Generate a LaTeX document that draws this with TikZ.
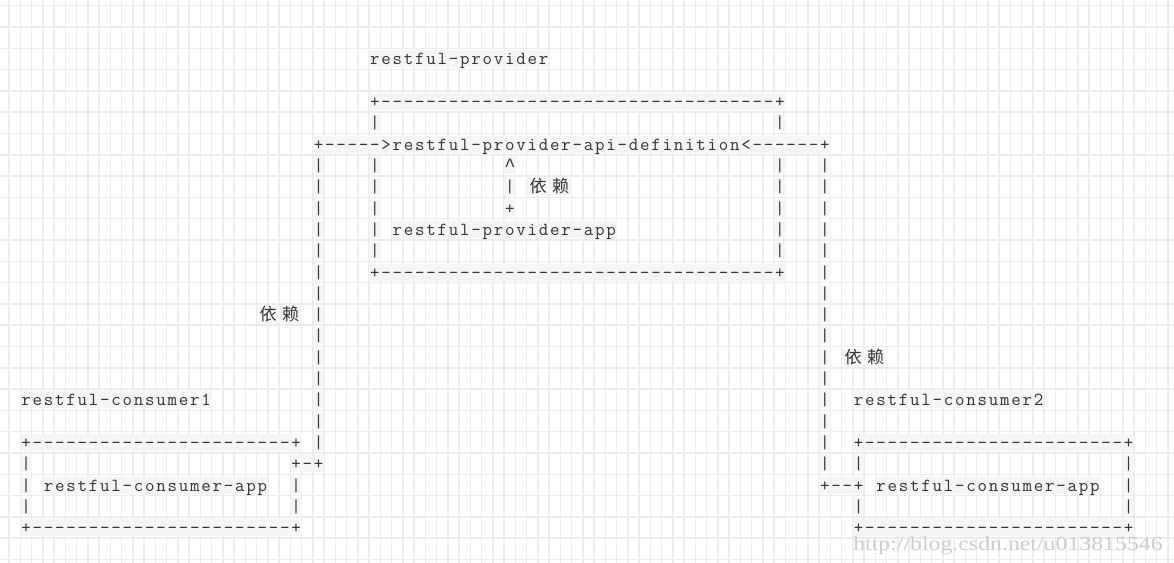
\documentclass[tikz,border=0pt]{standalone}
\usepackage{fontspec}
\usepackage{graphicx}
\newfontfamily\cjk{Noto Sans CJK SC}
\newfontfamily\wmfont{Liberation Serif}
\newfontfamily\libmono{Liberation Mono}
\definecolor{gridc}{RGB}{236,236,236}
\definecolor{cellbg}{RGB}{245,245,245}
\definecolor{ink}{RGB}{50,50,50}
\definecolor{wmc}{RGB}{205,205,205}
% one fixed-width cell per character
\def\monoA#1{\ifx#1\relax\else\makebox[8.4375pt]{#1}\expandafter\monoA\fi}
\newcommand\mono[1]{\monoA#1\relax}
\newcommand\caretglyph{{\libmono\fontsize{14pt}{16pt}\selectfont\textasciicircum}}
\newcommand\asc[4]{\node[asc] (#1) at ({20.275+11.25*#2},{65+21.3*#3}) {\mono{#4}};}
\newcommand\dep[3]{\node[depbox] (#1) at ({20.275+11.25*#2},{65+21.3*#3}) {\makebox[16.875pt]{依}\makebox[16.875pt]{赖}};}
\tikzset{
  asc/.style={anchor=base west, inner xsep=0pt, inner ysep=0pt, fill=cellbg,
    text height=10.875pt, text depth=1.875pt, text=ink,
    font=\ttfamily\fontsize{13.8pt}{16pt}\selectfont},
  depbox/.style={anchor=base west, inner xsep=0pt, inner ysep=0pt, fill=cellbg,
    text height=10.875pt, text depth=1.875pt, text=ink,
    font=\cjk\fontsize{12.8pt}{14pt}\selectfont},
  gridline/.style={draw=gridc, line width=1.125pt},
  watermark/.style={anchor=base west, inner sep=0pt, text=wmc,
    font=\wmfont\fontsize{15pt}{17pt}\selectfont}
}
\begin{document}
\begin{tikzpicture}[x=0.75pt,y=-0.75pt]
\useasboundingbox (0,0) rectangle (1174,563);
\fill[white] (0,0) rectangle (1174,563);
% grid
\foreach \k in {0,...,103} {\draw[gridline] ({9+11.25*\k},0) -- ({9+11.25*\k},563);}
\foreach \n in {0,...,26} {\draw[gridline] (0,{5.7+21.3*\n}) -- (1174,{5.7+21.3*\n});}
% provider
\asc{title}{31}{0}{restful-provider}
\asc{ptop}{31}{2}{+-----------------------------------+}
\asc{pl3}{31}{3}{|}
\asc{pr3}{67}{3}{|}
\asc{api}{26}{4}{+----->restful-provider-api-definition<------+}
\foreach \rr in {5,...,9} {
  \asc{pl\rr}{31}{\rr}{|}
  \asc{pr\rr}{67}{\rr}{|}
}
\asc{caret}{43}{5}{\caretglyph}
\asc{depbar}{43}{6}{|}
\dep{dep1}{45}{6}
\asc{depplus}{43}{7}{+}
\asc{papp}{33}{8}{restful-provider-app}
\asc{pbot}{31}{10}{+-----------------------------------+}
% outer lines
\foreach \rr in {5,...,18} {\asc{ol\rr}{26}{\rr}{|}}
\foreach \rr in {5,...,19} {\asc{or\rr}{71}{\rr}{|}}
\dep{dep2}{21}{12}
\dep{dep3}{73}{14}
% consumer 1
\asc{cAtitle}{0}{16}{restful-consumer1}
\asc{cAtop}{0}{18}{+-----------------------+}
\asc{cAl19}{0}{19}{|}
\asc{cAlink}{24}{19}{+-+}
\asc{cAl20}{0}{20}{|}
\asc{cAapp}{2}{20}{restful-consumer-app}
\asc{cAr20}{24}{20}{|}
\asc{cAl21}{0}{21}{|}
\asc{cAr21}{24}{21}{|}
\asc{cAbot}{0}{22}{+-----------------------+}
% consumer 2
\asc{cBtitle}{74}{16}{restful-consumer2}
\asc{cBtop}{74}{18}{+-----------------------+}
\asc{cBl19}{74}{19}{|}
\asc{cBr19}{98}{19}{|}
\asc{cBlink}{71}{20}{+--+}
\asc{cBapp}{76}{20}{restful-consumer-app}
\asc{cBr20}{98}{20}{|}
\asc{cBl21}{74}{21}{|}
\asc{cBr21}{98}{21}{|}
\asc{cBbot}{74}{22}{+-----------------------+}
% watermark
\node[watermark] (wm) at (853,550) {\scalebox{1.19}[1]{http://blog.csdn.net/u013815546}};
\end{tikzpicture}
\end{document}
